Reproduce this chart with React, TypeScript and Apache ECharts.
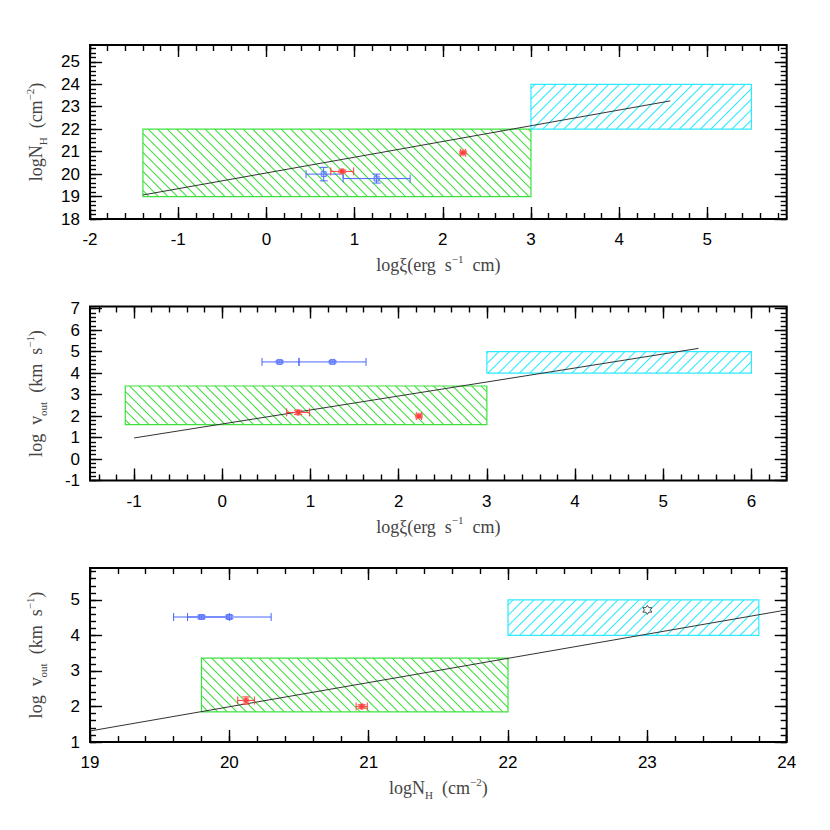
import React, { useEffect, useRef } from 'react';
import * as echarts from 'echarts';

// ---------------- data ----------------
// blue absorbers
const blueLogXi = [0.65, 1.25];
const blueLogXiLo = [0.45, 0.87];
const blueLogXiHi = [0.87, 1.63];
const blueLogNH = [20.0, 19.8];
const blueLogNHErr = [0.3, 0.2];
const blueLogV = [4.52, 4.52];
const blueLogVErr = [0.05, 0.05];

// red absorbers
const redLogXi = [0.86, 2.23];
const redLogXiErr = [0.13, 0.03];
const redLogNH = [20.12, 20.95];
const redLogNHErr = [0.06, 0.04];
const redLogV = [2.17, 2.0];
const redLogVErr = [0.1, 0.05];

// black point (bottom panel only)
const starLogNH = [23.0];
const starLogV = [4.72];

// hatched regions [xmin, xmax, ymin, ymax]
const greenXiNH = [-1.4, 3.0, 19.0, 22.0];
const cyanXiNH = [3.0, 5.5, 22.0, 24.0];
const greenXiV = [-1.1, 3.0, 1.6, 3.4];
const cyanXiV = [3.0, 6.0, 4.0, 5.0];
const greenNHV = [19.8, 22.0, 1.85, 3.36];
const cyanNHV = [22.0, 23.8, 4.0, 5.0];

// straight-line relations (end points)
const fitXiNH = [[-1.4, 19.07], [4.58, 23.26]];
const fitXiV = [[-1.0, 0.98], [5.4, 5.15]];
const fitNHV = [[19.0, 1.31], [24.0, 4.72]];

// axis ranges and major tick labels
const rangeXiTop = [-2, 5.9];
const rangeNHTop = [18, 25.75];
const rangeXiMid = [-1.5, 6.4];
const rangeVMid = [-1, 7.1];
const rangeNHBot = [19, 24];
const rangeVBot = [1, 5.9];

const ticksXiTop = [-2, -1, 0, 1, 2, 3, 4, 5];
const ticksNHTop = [18, 19, 20, 21, 22, 23, 24, 25];
const ticksXiMid = [-1, 0, 1, 2, 3, 4, 5, 6];
const ticksVMid = [-1, 0, 1, 2, 3, 4, 5, 6, 7];
const ticksNHBot = [19, 20, 21, 22, 23, 24];
const ticksVBot = [1, 2, 3, 4, 5];

// ---------------- styling ----------------
const SANS = '"Liberation Sans", Arial, Helvetica, sans-serif';
const SERIF = '"Liberation Serif", "Times New Roman", serif';
const TITLE_COLOR = '#444';
const HATCH_COLORS = ['#3ee03e', '#2eeaff'];
const HATCH_WIDTHS = [1.05, 1.1];
const BLUE = '#4a66ff';
const RED = '#ff3b3b';

const GRID_LEFT = 90;
const GRID_W = 696.7;
const GRID_H = 174;
const GRID_TOPS = [45, 306.5, 568];

const rich = {
  t: { fontFamily: SERIF, fontSize: 18, color: TITLE_COLOR, lineHeight: 24 },
  sub: { fontFamily: SERIF, fontSize: 11, color: TITLE_COLOR, lineHeight: 12, verticalAlign: 'bottom' },
  sup: { fontFamily: SERIF, fontSize: 11, color: TITLE_COLOR, lineHeight: 14, verticalAlign: 'top' },
};

const XI_TITLE = '{t|logξ(erg  s}{sup|−1}{t|  cm)}';
const NH_TITLE = '{t|logN}{sub|H}{t|  (cm}{sup|−2}{t|)}';
const V_TITLE = '{t|log  v}{sub|out}{t|  (km  s}{sup|−1}{t|)}';

// hatch strokes inside a rectangle, as a single path
const HatchShape = (echarts as any).graphic.extendShape({
  type: 'hatch',
  shape: { L: 0, T: 0, R: 0, B: 0, s: 10, dir: 0 },
  buildPath(ctx: any, shape: any) {
    const { L, T, R, B, s, dir } = shape;
    if (dir === 0) {
      // "\" strokes: y = x + c
      for (let c = Math.ceil((T - R) / s) * s; c <= B - L; c += s) {
        const xa = Math.max(L, T - c);
        const xb = Math.min(R, B - c);
        if (xb > xa) {
          ctx.moveTo(xa, xa + c);
          ctx.lineTo(xb, xb + c);
        }
      }
    } else {
      // "/" strokes: x + y = c
      for (let c = Math.ceil((L + T) / s) * s; c <= R + B; c += s) {
        const xa = Math.max(L, c - B);
        const xb = Math.min(R, c - T);
        if (xb > xa) {
          ctx.moveTo(xa, c - xa);
          ctx.lineTo(xb, c - xb);
        }
      }
    }
  },
});
(echarts as any).graphic.registerShape('hatch', HatchShape);

function minorTicks(range: number[]) {
  const out: number[] = [];
  const step = 0.2;
  for (let k = Math.ceil(range[0] / step - 1e-9); k * step <= range[1] + 1e-9; k++) {
    out.push(Math.round(k * step * 100) / 100);
  }
  return out;
}

function tick(values: number[], len: number) {
  return {
    show: true,
    inside: true,
    length: len,
    customValues: values,
    lineStyle: { color: '#000', width: 1.4 },
  };
}

function xAxesFor(gi: number, range: number[], majors: number[], name: string) {
  const base = {
    type: 'value',
    gridIndex: gi,
    min: range[0],
    max: range[1],
    splitLine: { show: false },
    axisLine: { show: false, onZero: false },
  };
  const minors = minorTicks(range);
  return [
    {
      ...base,
      position: 'bottom',
      axisTick: tick(majors, 12),
      axisLabel: { show: true, customValues: majors, margin: 12, fontSize: 17, color: '#000', fontFamily: SANS },
      name,
      nameLocation: 'middle',
      nameGap: 34,
      nameTextStyle: { rich },
    },
    { ...base, position: 'bottom', axisTick: tick(minors, 6), axisLabel: { show: false } },
    { ...base, position: 'top', axisTick: tick(majors, 12), axisLabel: { show: false } },
    { ...base, position: 'top', axisTick: tick(minors, 6), axisLabel: { show: false } },
  ];
}

function yAxesFor(gi: number, range: number[], majors: number[], name: string) {
  const base = {
    type: 'value',
    gridIndex: gi,
    min: range[0],
    max: range[1],
    splitLine: { show: false },
    axisLine: { show: false, onZero: false },
  };
  const minors = minorTicks(range);
  return [
    {
      ...base,
      position: 'left',
      axisTick: tick(majors, 12),
      axisLabel: { show: true, customValues: majors, margin: 10, fontSize: 17, color: '#000', fontFamily: SANS },
      name,
      nameLocation: 'middle',
      nameRotate: 90,
      nameGap: 42,
      nameTextStyle: { rich },
    },
    { ...base, position: 'left', axisTick: tick(minors, 6), axisLabel: { show: false } },
    { ...base, position: 'right', axisTick: tick(majors, 12), axisLabel: { show: false } },
    { ...base, position: 'right', axisTick: tick(minors, 6), axisLabel: { show: false } },
  ];
}

// data item: [xmin, xmax, ymin, ymax, kind(0 = green "\" hatch, 1 = cyan "/" hatch)]
function hatchBox(_params: any, api: any) {
  const kind = Number(api.value(4)) === 1 ? 1 : 0;
  const p0 = api.coord([api.value(0), api.value(3)]);
  const p1 = api.coord([api.value(1), api.value(2)]);
  const L = p0[0];
  const T = p0[1];
  const R = p1[0];
  const B = p1[1];
  return {
    type: 'group',
    children: [
      {
        type: 'hatch',
        shape: { L, T, R, B, s: kind === 0 ? 9.5 : 10.5, dir: kind },
        style: { stroke: HATCH_COLORS[kind], lineWidth: HATCH_WIDTHS[kind], fill: 'none' },
      },
      {
        type: 'rect',
        shape: { x: L, y: T, width: R - L, height: B - T },
        style: { stroke: HATCH_COLORS[kind], lineWidth: 1.2, fill: 'none' },
      },
    ],
  };
}

function errBars(color: string) {
  return (_params: any, api: any) => {
    const x = api.value(0);
    const y = api.value(1);
    const a = api.coord([api.value(2), y]);
    const b = api.coord([api.value(3), y]);
    const d = api.coord([x, api.value(4)]);
    const e = api.coord([x, api.value(5)]);
    const c = 4;
    const mk = (x1: number, y1: number, x2: number, y2: number) => ({
      type: 'line',
      shape: { x1, y1, x2, y2 },
      style: { stroke: color, lineWidth: 1, fill: 'none' },
    });
    return {
      type: 'group',
      children: [
        mk(a[0], a[1], b[0], b[1]),
        mk(a[0], a[1] - c, a[0], a[1] + c),
        mk(b[0], b[1] - c, b[0], b[1] + c),
        mk(d[0], d[1], e[0], e[1]),
        mk(d[0] - c, d[1], d[0] + c, d[1]),
        mk(e[0] - c, e[1], e[0] + c, e[1]),
      ],
    };
  };
}

function zip(...cols: number[][]) {
  return cols[0].map((_, i) => cols.map((c) => c[i]));
}
const sub = (a: number[], b: number[]) => a.map((v, i) => v - b[i]);
const add = (a: number[], b: number[]) => a.map((v, i) => v + b[i]);

function panelSeries(
  gi: number,
  green: number[],
  cyan: number[],
  fit: number[][],
  blueErr: number[][],
  redErr: number[][],
  blueXY: number[][],
  redXY: number[][],
  starXY: number[][] | null,
) {
  const ax = { xAxisIndex: gi * 4, yAxisIndex: gi * 4 };
  const list: any[] = [
    {
      type: 'custom', ...ax,
      data: [[...green, 0], [...cyan, 1]],
      renderItem: hatchBox, z: 1, silent: true, clip: false,
    },
    { type: 'line', ...ax, data: fit, symbol: 'none', lineStyle: { color: '#333', width: 1 }, z: 2, silent: true },
    { type: 'custom', ...ax, data: blueErr, renderItem: errBars(BLUE), z: 3, silent: true, clip: false },
    { type: 'custom', ...ax, data: redErr, renderItem: errBars(RED), z: 3, silent: true, clip: false },
    {
      type: 'scatter', ...ax, data: blueXY, symbol: 'rect', symbolSize: 5,
      itemStyle: { color: 'rgba(120,140,255,0.5)', borderColor: BLUE, borderWidth: 1 }, z: 4, silent: true,
    },
    {
      type: 'scatter', ...ax, data: redXY, symbol: 'circle', symbolSize: 6,
      itemStyle: { color: RED, borderColor: '#ff8080', borderWidth: 1 }, z: 4, silent: true,
    },
  ];
  if (starXY) {
    list.push({
      type: 'scatter', ...ax, data: starXY,
      symbol: 'path://M0,-10 L2.9,-5 L8.66,-5 L5.8,0 L8.66,5 L2.9,5 L0,10 L-2.9,5 L-8.66,5 L-5.8,0 L-8.66,-5 L-2.9,-5 Z',
      symbolSize: 9, itemStyle: { color: '#fff', borderColor: '#222', borderWidth: 1 }, z: 4, silent: true,
    });
  }
  return list;
}

function buildOption() {
  const grids = GRID_TOPS.map((top) => ({
    left: GRID_LEFT,
    top,
    width: GRID_W,
    height: GRID_H,
    show: true,
    borderColor: '#000',
    borderWidth: 2,
    backgroundColor: 'transparent',
    containLabel: false,
    outerBoundsMode: 'none',
  }));

  const xAxis = [
    ...xAxesFor(0, rangeXiTop, ticksXiTop, XI_TITLE),
    ...xAxesFor(1, rangeXiMid, ticksXiMid, XI_TITLE),
    ...xAxesFor(2, rangeNHBot, ticksNHBot, NH_TITLE),
  ];
  const yAxis = [
    ...yAxesFor(0, rangeNHTop, ticksNHTop, NH_TITLE),
    ...yAxesFor(1, rangeVMid, ticksVMid, V_TITLE),
    ...yAxesFor(2, rangeVBot, ticksVBot, V_TITLE),
  ];

  const redXiLo = sub(redLogXi, redLogXiErr);
  const redXiHi = add(redLogXi, redLogXiErr);

  const series = [
    ...panelSeries(
      0, greenXiNH, cyanXiNH, fitXiNH,
      zip(blueLogXi, blueLogNH, blueLogXiLo, blueLogXiHi, sub(blueLogNH, blueLogNHErr), add(blueLogNH, blueLogNHErr)),
      zip(redLogXi, redLogNH, redXiLo, redXiHi, sub(redLogNH, redLogNHErr), add(redLogNH, redLogNHErr)),
      zip(blueLogXi, blueLogNH), zip(redLogXi, redLogNH), null,
    ),
    ...panelSeries(
      1, greenXiV, cyanXiV, fitXiV,
      zip(blueLogXi, blueLogV, blueLogXiLo, blueLogXiHi, sub(blueLogV, blueLogVErr), add(blueLogV, blueLogVErr)),
      zip(redLogXi, redLogV, redXiLo, redXiHi, sub(redLogV, redLogVErr), add(redLogV, redLogVErr)),
      zip(blueLogXi, blueLogV), zip(redLogXi, redLogV), null,
    ),
    ...panelSeries(
      2, greenNHV, cyanNHV, fitNHV,
      zip(blueLogNH, blueLogV, sub(blueLogNH, blueLogNHErr), add(blueLogNH, blueLogNHErr), sub(blueLogV, blueLogVErr), add(blueLogV, blueLogVErr)),
      zip(redLogNH, redLogV, sub(redLogNH, redLogNHErr), add(redLogNH, redLogNHErr), sub(redLogV, redLogVErr), add(redLogV, redLogVErr)),
      zip(blueLogNH, blueLogV), zip(redLogNH, redLogV), zip(starLogNH, starLogV),
    ),
  ];

  return {
    animation: false,
    backgroundColor: '#fff',
    grid: grids,
    xAxis,
    yAxis,
    series,
  };
}

export default function App() {
  const ref = useRef<HTMLDivElement>(null);
  useEffect(() => {
    if (!ref.current) return;
    const chart = echarts.init(ref.current, null, { renderer: 'svg', width: 830, height: 830 });
    chart.setOption(buildOption() as any);
    return () => chart.dispose();
  }, []);
  return (
    <div
      ref={ref}
      style={{ position: 'absolute', left: 0, top: 0, width: 830, height: 830, background: '#fff' }}
    />
  );
}
